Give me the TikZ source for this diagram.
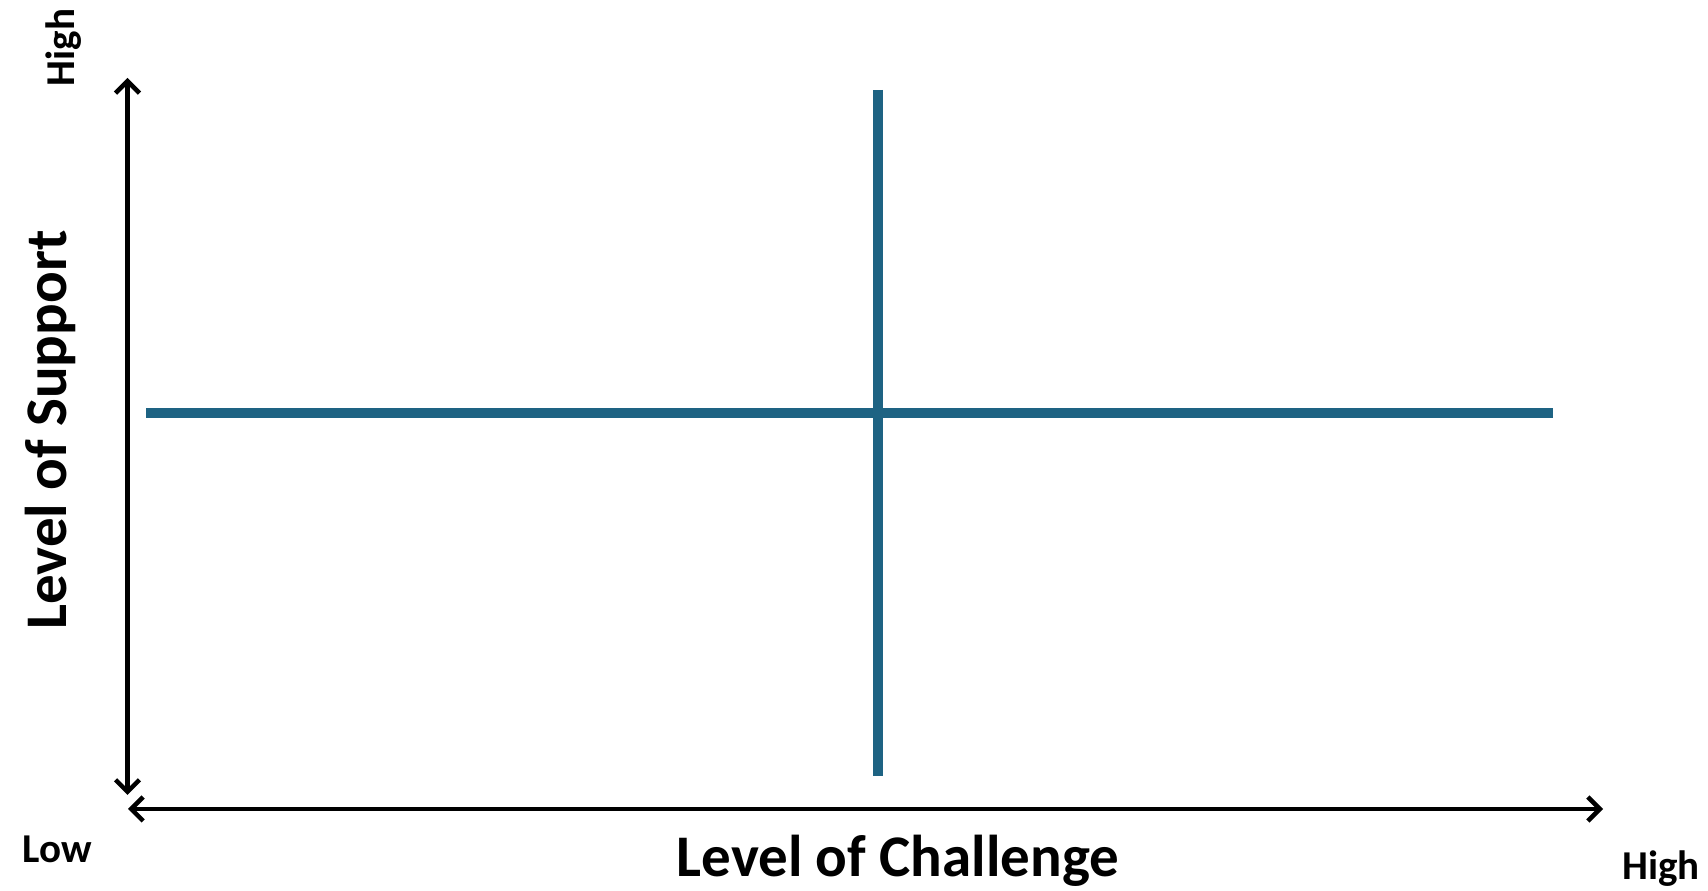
\documentclass[tikz,border=0pt]{standalone}
\usepackage{fontspec}
\setmainfont{Carlito}
\usetikzlibrary{arrows.meta}
\definecolor{quadblue}{RGB}{30,99,131}
\tikzset{
    axisarrow/.style={line width=4.5pt, {Straight Barb[length=12pt,width=24pt]}-{Straight Barb[length=12pt,width=24pt]}},
    quadline/.style={line width=10pt, quadblue},
    ticklabel/.style={font=\fontsize{41}{49}\selectfont\bfseries, inner sep=0pt, anchor=base},
    axislabel/.style={font=\fontsize{59}{70}\selectfont\bfseries, inner sep=0pt, anchor=base}
}
\begin{document}
\begin{tikzpicture}[x=1pt, y=1pt]
    \useasboundingbox (0,0) rectangle (1708,891);
    % axes
    \coordinate (supTop) at (127.5,813);
    \coordinate (supBot) at (127.5,96);
    \coordinate (chaLeft) at (128,82);
    \coordinate (chaRight) at (1603,82);
    \draw[axisarrow] (supBot) -- (supTop);
    \draw[axisarrow] (chaLeft) -- (chaRight);
    % quadrant lines
    \coordinate (hLeft) at (146,478);
    \coordinate (hRight) at (1553,478);
    \coordinate (vTop) at (877.7,801);
    \coordinate (vBot) at (877.7,115);
    \draw[quadline] (hLeft) -- (hRight);
    \draw[quadline] (vTop) -- (vBot);
    % labels
    \node[ticklabel, rotate=90] (supHigh) at (74,843.5) {High};
    \node[ticklabel] (low) at (57,28) {Low};
    \node[ticklabel] (chaHigh) at (1661,11) {High};
    \node[axislabel, rotate=90] (support) at (66,461) {Level of Support};
    \node[axislabel] (challenge) at (898,14) {Level of Challenge};
\end{tikzpicture}
\end{document}
